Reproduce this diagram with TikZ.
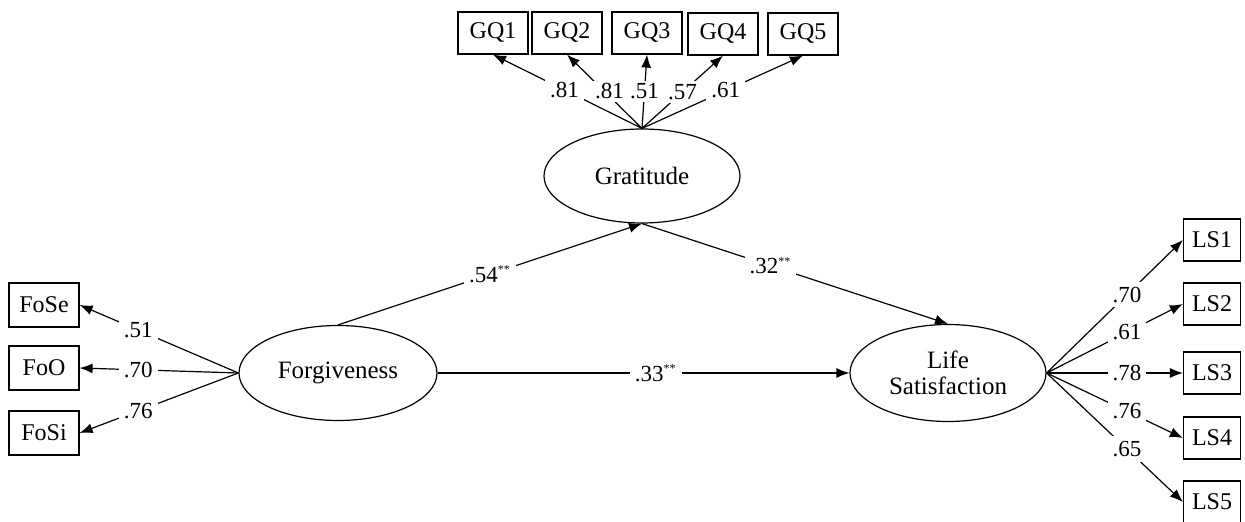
\documentclass[tikz,border=0pt]{standalone}
\usepackage{fontspec}
\setmainfont{Liberation Serif}
\usetikzlibrary{shapes.geometric,arrows.meta}
\tikzset{
obs/.style={draw, rectangle, minimum width=35pt, minimum height=21pt, inner sep=0pt, line width=0.6pt, font=\fontsize{12}{14}\selectfont},
lat/.style={draw, ellipse, minimum width=98pt, minimum height=47pt, inner sep=0pt, line width=0.6pt, align=center, font=\fontsize{12.5}{13}\selectfont},
link/.style={-{Latex[length=6.5pt,width=5pt]}, line width=0.6pt},
coef/.style={fill=white, inner sep=2.5pt, font=\fontsize{11.5}{12}\selectfont}
}
\newcommand{\sig}{\textsuperscript{\fontsize{6}{6}\selectfont **}}
\begin{document}
\begin{tikzpicture}[x=0.5pt, y=-0.5pt]
\useasboundingbox (0,0) rectangle (1245,522);

\node[lat] (grat) at (642,176) {Gratitude};
\node[lat, minimum width=99pt, minimum height=47.5pt] (forg) at (338,373) {Forgiveness};
\node[lat, minimum height=48.5pt] (life) at (948,373) {Life\\Satisfaction};

\node[obs] (gq1) at (493,33) {GQ1};
\node[obs] (gq2) at (567,33) {GQ2};
\node[obs] (gq3) at (647,33) {GQ3};
\node[obs] (gq4) at (723,34) {GQ4};
\node[obs] (gq5) at (803,34) {GQ5};

\node[obs, minimum height=22pt] (fose) at (44,305) {FoSe};
\node[obs, minimum height=22pt] (foo) at (44,368) {FoO};
\node[obs, minimum height=22pt] (fosi) at (44,433) {FoSi};

\node[obs, minimum width=28.5pt] (ls1) at (1212,240) {LS1};
\node[obs, minimum width=28.5pt] (ls2) at (1212,304) {LS2};
\node[obs, minimum width=28.5pt] (ls3) at (1212,373) {LS3};
\node[obs, minimum width=28.5pt] (ls4) at (1212,438) {LS4};
\node[obs, minimum width=28.5pt] (ls5) at (1212,502) {LS5};

\draw[link] (grat.north) -- (gq1.south) node[coef, pos=0.52] {.81};
\draw[link] (grat.north) -- (gq2.south) node[coef, pos=0.5, xshift=2.5pt, inner sep=1.5pt] {.81};
\draw[link] (grat.north) -- (gq3.south) node[coef, pos=0.5, inner sep=1.5pt] {.51};
\draw[link] (grat.north) -- (gq4.south) node[coef, pos=0.5, inner sep=1.5pt] {.57};
\draw[link] (grat.north) -- (gq5.south) node[coef, pos=0.52] {.61};

\draw[link] (forg.west) -- (fose.east) node[coef, pos=0.63] {.51};
\draw[link] (forg.west) -- (foo.east) node[coef, pos=0.63] {.70};
\draw[link] (forg.west) -- (fosi.east) node[coef, pos=0.63] {.76};

\draw[link] (life.east) -- (ls1.west) node[coef, pos=0.59] {.70};
\draw[link] (life.east) -- (ls2.west) node[coef, pos=0.59] {.61};
\draw[link] (life.east) -- (ls3.west) node[coef, pos=0.59] {.78};
\draw[link] (life.east) -- (ls4.west) node[coef, pos=0.59] {.76};
\draw[link] (life.east) -- (ls5.west) node[coef, pos=0.59] {.65};

\draw[link] (forg.north) -- (grat.south) node[coef, pos=0.5] {.54\sig};
\draw[link] (grat.south) -- (life.north) node[coef, pos=0.42] {.32\sig};
\draw[link] (forg.east) -- (life.west) node[coef, pos=0.53] {.33\sig};
\end{tikzpicture}
\end{document}
